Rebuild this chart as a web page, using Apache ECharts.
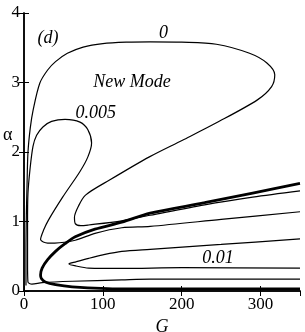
<!DOCTYPE html>
<html><head><meta charset="utf-8">
<script src="https://cdn.jsdelivr.net/npm/echarts@6/dist/echarts.min.js"></script>
<style>html,body{margin:0;padding:0;background:#fff;}#c{width:305px;height:332px;}</style>
</head><body><div id="c"></div>
<script>
// Thick curve (neutral curve), [G, alpha]
const neutralCurve = [[350,0.03],[250,0.03],[124,0.03],[61,0.06],[40,0.09],[27,0.13],[22,0.18],[21,0.23],[23,0.33],[30,0.45],[40,0.57],[52,0.68],[65,0.78],[90,0.89],[124,0.99],[160,1.12],[229,1.27],[290,1.41],[350,1.55]];
// Contour level 0
const contourZero = [[2.5,0.08],[2.5,0.6],[3,1.1],[3.8,1.5],[5,1.99],[8,2.35],[11.5,2.6],[20,2.99],[30,3.18],[40,3.3],[55,3.42],[75,3.51],[100,3.56],[130,3.58],[160,3.585],[200,3.58],[244,3.55],[286,3.42],[308,3.28],[318,3.11],[314,2.94],[296,2.75],[244,2.42],[201,2.17],[159,1.93],[109,1.6],[78,1.38],[69,1.22],[64,1.06],[65,0.97],[72,0.94],[82,0.95],[124,1.01],[160,1.09],[229,1.24],[290,1.35],[350,1.44]];
// Contour level 0.005
const contour005 = [[350,0.17],[160,0.17],[124,0.16],[61,0.14],[23,0.12],[10,0.1],[5,0.13],[4.5,0.4],[4.5,1.0],[5,1.4],[7.6,1.75],[11.4,2.08],[16,2.24],[24,2.36],[35,2.44],[52,2.47],[71,2.43],[81,2.32],[85.7,2.13],[81,1.93],[71,1.72],[49,1.35],[31,1.02],[25,0.88],[21,0.74],[30,0.69],[39,0.69],[65,0.73],[90,0.83],[124,0.91],[160,0.93],[250,1.03],[350,1.14]];
// Contour level 0.01
const contour01 = [[350,0.75],[250,0.67],[160,0.6],[124,0.57],[100,0.52],[82,0.47],[66,0.42],[57,0.39],[66,0.36],[82,0.33],[124,0.325],[200,0.335],[350,0.33]];
// Text annotations [G, alpha, text]
const annotations = [[30.4,3.63,'(d)'],[177,3.71,'0'],[137,3.01,'New Mode'],[91,2.56,'0.005'],[246,0.47,'0.01']];

const serif = 'Liberation Serif';
const chart = echarts.init(document.getElementById('c'), null, {renderer:'canvas'});
const axisBase = {
  type:'value', axisLine:{show:true, lineStyle:{color:'#000', width:1.5}},
  axisTick:{show:true, inside:true, length:5, lineStyle:{color:'#000', width:1}},
  splitLine:{show:false}
};
const lineSeries = (data, w) => ({
  type:'line', data, showSymbol:false, smooth:0.3, xAxisIndex:0, yAxisIndex:0,
  lineStyle:{color:'#000', width:w}, animation:false, z:3
});
chart.setOption({
  animation:false,
  grid:{left:24, right:5, top:13, bottom:41, containLabel:false, outerBoundsMode:'none'},
  xAxis:[
    Object.assign({}, axisBase, {min:0, max:350, interval:100, position:'bottom',
      axisLabel:{color:'#000', fontFamily:serif, fontSize:17, margin:5, showMaxLabel:false},
      name:'G', nameLocation:'middle', nameGap:19,
      nameTextStyle:{color:'#000', fontFamily:serif, fontSize:18, fontStyle:'italic'}}),
    Object.assign({}, axisBase, {min:0, max:350, interval:100, position:'top', axisLabel:{show:false}})
  ],
  yAxis:[
    Object.assign({}, axisBase, {min:0, max:4, interval:1, position:'left',
      axisLabel:{color:'#000', fontFamily:serif, fontSize:17, margin:4}}),
    Object.assign({}, axisBase, {min:0, max:4, interval:1, position:'right', axisLabel:{show:false}})
  ],
  graphic:[{type:'text', left:3, top:126, style:{text:'α', font:'18px "Liberation Serif"', fill:'#000'}}],
  series:[
    lineSeries(contourZero, 1.2),
    lineSeries(contour005, 1.2),
    lineSeries(contour01, 1.2),
    lineSeries(neutralCurve, 2.8),
    {type:'scatter', data:annotations.map(a=>({value:[a[0],a[1]], name:a[2]})), symbolSize:0,
     itemStyle:{opacity:1},
     label:{show:true, position:'inside', formatter:p=>p.name, color:'#000', opacity:1, fontFamily:serif, fontSize:18, fontStyle:'italic'},
     z:5, silent:true}
  ]
});
</script></body></html>
